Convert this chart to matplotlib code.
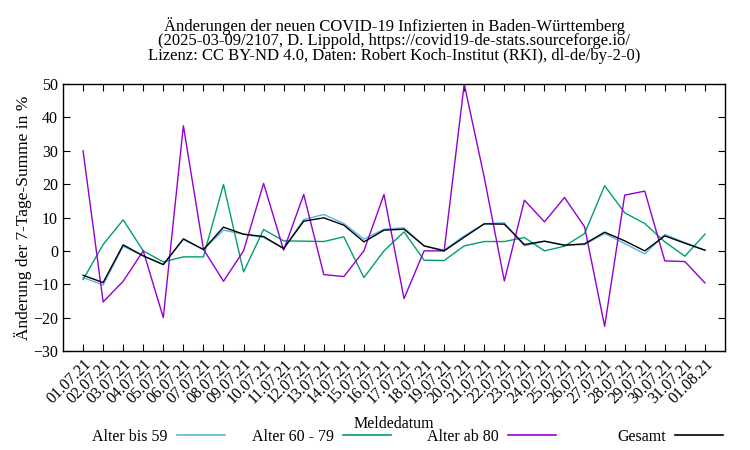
import matplotlib
matplotlib.use("Agg")
import matplotlib.pyplot as plt

plt.rcParams['font.family'] = ['Liberation Serif', 'DejaVu Serif']

dates = ["01.07.21", "02.07.21", "03.07.21", "04.07.21", "05.07.21", "06.07.21",
         "07.07.21", "08.07.21", "09.07.21", "10.07.21", "11.07.21", "12.07.21",
         "13.07.21", "14.07.21", "15.07.21", "16.07.21", "17.07.21", "18.07.21",
         "19.07.21", "20.07.21", "21.07.21", "22.07.21", "23.07.21", "24.07.21",
         "25.07.21", "26.07.21", "27.07.21", "28.07.21", "29.07.21", "30.07.21",
         "31.07.21", "01.08.21"]

bis59 = [-8.0, -10.2, 1.4, -1.5, -4.1, 3.4, 0.4, 6.2, 5.0, 4.0, 0.7, 9.4,
         10.9, 8.2, 3.5, 6.5, 6.9, 1.5, 0.2, 4.5, 8.1, 8.4, 1.5, 2.9,
         1.7, 1.9, 5.2, 2.2, -0.9, 4.9, 2.5, 0.2]
a60_79 = [-8.6, 1.9, 9.3, 0.0, -3.3, -1.8, -1.8, 19.9, -6.3, 6.4, 3.0, 2.9,
          2.8, 4.2, -8.0, 0.0, 5.7, -2.8, -2.9, 1.5, 2.8, 2.8, 4.0, 0.0,
          1.4, 5.2, 19.5, 11.4, 8.2, 2.7, -1.6, 5.0]
ab80 = [30.0, -15.3, -9.1, 0.0, -20.0, 37.5, 0.5, -9.1, 0.0, 20.2, 0.2, 16.9,
        -7.1, -7.7, 0.0, 16.9, -14.3, 0.0, 0.0, 50.0, 22.0, -9.0, 15.2, 8.7,
        16.0, 7.2, -22.6, 16.7, 17.9, -3.0, -3.2, -9.6]
gesamt = [-7.3, -9.5, 1.8, -1.5, -4.1, 3.6, 0.4, 7.1, 5.0, 4.3, 0.7, 8.9,
          9.9, 7.7, 2.7, 6.2, 6.5, 1.5, 0.0, 4.1, 8.1, 8.0, 1.9, 2.9,
          1.7, 2.1, 5.6, 3.0, 0.0, 4.5, 2.3, 0.2]

series = [("Alter bis 59", bis59, "#56b4e9"),
          ("Alter 60 - 79", a60_79, "#009e73"),
          ("Alter ab 80", ab80, "#9400d3"),
          ("Gesamt", gesamt, "#000000")]

fig = plt.figure(figsize=(7.5, 4.5), dpi=100)
ax = fig.add_axes([63/750, 1-351/450, (725-63)/750, (351-84)/450])

x = list(range(len(dates)))
handles = []
for name, vals, col in series:
    h, = ax.plot(x, vals, color=col, lw=1.0, label=name)
    handles.append(h)

ax.set_xlim(-1, len(dates))
ax.set_ylim(-30, 50)
ax.set_yticks(range(-30, 51, 10))
ax.set_xticks(x)
ax.set_xticklabels(dates, rotation=45, ha='right', va='top', rotation_mode='anchor', fontsize=11.5)
ax.tick_params(axis='both', direction='in', top=True, right=True, length=5, width=0.8, labelsize=11.5)
ax.tick_params(axis='x', pad=4)
for s in ax.spines.values():
    s.set_linewidth(1.0)

ax.set_ylabel("Änderung der 7-Tage-Summe in %", fontsize=12.5, labelpad=1)
fig.text(394/750, 1-424/450, "Meldedatum", ha='center', va='center', fontsize=11.5)

fig.suptitle("Änderungen der neuen COVID-19 Infizierten in Baden-Württemberg\n"
             "(2025-03-09/2107, D. Lippold, https://covid19-de-stats.sourceforge.io/\n"
             "Lizenz: CC BY-ND 4.0, Daten: Robert Koch-Institut (RKI), dl-de/by-2-0)",
             x=394/750, y=1-17/450, va='top', fontsize=12, linespacing=0.88)

line_ends = [222, 388, 553, 720]
for h, xe in zip(handles, line_ends):
    leg = fig.legend([h], [h.get_label()], loc='center right',
                     bbox_to_anchor=(xe/750 + 0.004, 1-437/450), markerfirst=False,
                     frameon=False, fontsize=11.5, handlelength=3.0, handletextpad=0.6,
                     borderpad=0, borderaxespad=0)
    for lh in leg.legend_handles:
        lh.set_linewidth(1.2)

fig.savefig("out.png", dpi=100)
